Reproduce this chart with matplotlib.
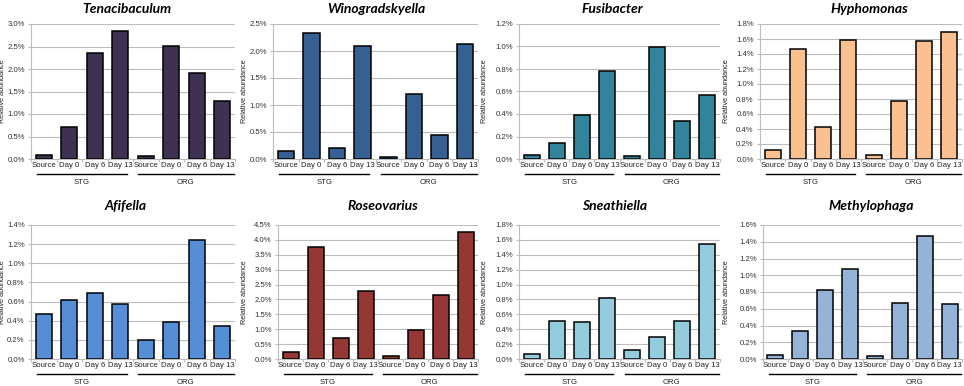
import numpy as np
import matplotlib
matplotlib.use("Agg")
import matplotlib.pyplot as plt
from matplotlib.ticker import FuncFormatter, MultipleLocator
from matplotlib.transforms import blended_transform_factory

categories = ["Source", "Day 0", "Day 6", "Day 13", "Source", "Day 0", "Day 6", "Day 13"]
groups = ["STG", "ORG"]

titles = ["Tenacibaculum", "Winogradskyella", "Fusibacter", "Hyphomonas",
          "Afifella", "Roseovarius", "Sneathiella", "Methylophaga"]

tenacibaculum = [0.10, 0.71, 2.35, 2.84, 0.07, 2.52, 1.92, 1.29]
winogradskyella = [0.14, 2.33, 0.21, 2.10, 0.04, 1.20, 0.45, 2.13]
fusibacter = [0.035, 0.14, 0.39, 0.78, 0.024, 1.00, 0.335, 0.57]
hyphomonas = [0.12, 1.47, 0.43, 1.59, 0.06, 0.77, 1.57, 1.70]
afifella = [0.47, 0.62, 0.69, 0.57, 0.195, 0.39, 1.24, 0.345]
roseovarius = [0.235, 3.76, 0.705, 2.27, 0.09, 0.96, 2.15, 4.25]
sneathiella = [0.07, 0.51, 0.50, 0.815, 0.115, 0.29, 0.51, 1.54]
methylophaga = [0.05, 0.33, 0.82, 1.07, 0.03, 0.67, 1.47, 0.66]

values = [tenacibaculum, winogradskyella, fusibacter, hyphomonas,
          afifella, roseovarius, sneathiella, methylophaga]
ymax = [3.0, 2.5, 1.2, 1.8, 1.4, 4.5, 1.8, 1.6]
ystep = [0.5, 0.5, 0.2, 0.2, 0.2, 0.5, 0.2, 0.2]

colors = ["#3F3151", "#376092", "#31849B", "#FAC090",
          "#558ED5", "#953735", "#93CDDD", "#95B3D7"]

# axes boxes in pixels: left, right, top, bottom
W, H = 964, 386
boxes = [(31, 235, 24, 159), (273, 478, 24, 159), (519, 720, 24, 159), (760, 962, 24, 159),
         (31, 235, 225, 359), (278, 478, 225, 359), (519, 720, 225, 359), (763, 962, 225, 359)]
panel_x0 = [0, 241, 482, 723, 0, 241, 482, 723]
title_pos = [(127, 9), (376, 9), (612, 9), (869, 9),
             (126, 206), (383, 206), (615, 206), (871, 206)]

tick_font = "Liberation Sans"
grid_c = "#BDBDBD"
fs = 5.6

fig = plt.figure(figsize=(W / 100, H / 100), dpi=100)

for i in range(8):
    l, r, t, b = boxes[i]
    ax = fig.add_axes([l / W, 1 - b / H, (r - l) / W, (b - t) / H])
    x = np.arange(len(categories))
    ax.bar(x, values[i], width=0.64, color=colors[i], edgecolor="black", linewidth=1.1, zorder=3)
    ax.set_xlim(-0.5, 7.5)
    ax.set_ylim(0, ymax[i])
    ax.yaxis.set_major_locator(MultipleLocator(ystep[i]))
    ax.yaxis.set_major_formatter(FuncFormatter(lambda v, p: "%.1f%%" % v))
    ax.grid(axis="y", color=grid_c, linewidth=0.8, zorder=0)
    for s in ["top", "right"]:
        ax.spines[s].set_visible(False)
    for s in ["left", "bottom"]:
        ax.spines[s].set_color(grid_c)
        ax.spines[s].set_linewidth(0.8)
    ax.set_xticks(x)
    ax.set_xticklabels(categories, fontsize=fs, fontname=tick_font, color="#222222")
    ax.set_xticks(np.arange(-0.5, 8, 1), minor=True)
    ax.tick_params(axis="x", which="major", length=0, pad=2)
    ax.tick_params(axis="x", which="minor", length=2.5, color=grid_c, width=0.8)
    ax.tick_params(axis="y", length=2.5, color=grid_c, width=0.8, pad=2,
                   labelsize=fs, labelcolor="#333333")
    for lab in ax.get_yticklabels():
        lab.set_fontname(tick_font)
    ax.set_ylabel("Relative abundance", fontsize=5.2, fontname=tick_font, color="#222222")
    ax.yaxis.set_label_coords((panel_x0[i] + 6.5 - l) / (r - l), 0.5)

    # group underlines and labels
    trans = blended_transform_factory(ax.transData, ax.transAxes)
    h = b - t
    for g, (x0, x1) in zip(groups, [(-0.25, 3.25), (3.7, 7.45)]):
        ax.plot([x0, x1], [-15 / h, -15 / h], color="black", linewidth=1.0,
                transform=trans, clip_on=False)
        ax.text((x0 + x1) / 2, -24 / h, g, transform=trans, ha="center", va="center",
                fontsize=fs, fontname=tick_font, color="#222222")

    tx, ty = title_pos[i]
    fig.text(tx / W, 1 - ty / H, titles[i], ha="center", va="center", fontsize=10,
             fontname="Lato", fontweight="bold", fontstyle="italic")

fig.savefig("out.png", dpi=100)
